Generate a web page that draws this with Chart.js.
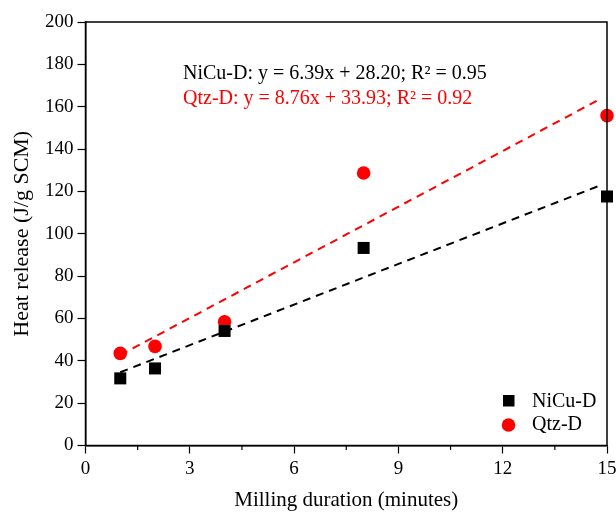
<!DOCTYPE html>
<html>
<head>
<meta charset="utf-8">
<script src="https://cdn.jsdelivr.net/npm/chart.js@4/dist/chart.umd.min.js"></script>
<style>
  html, body { margin: 0; padding: 0; background: #fff; overflow: hidden; }
  #wrap { width: 630px; height: 513px; }
</style>
</head>
<body>
<div id="wrap"><canvas id="chart" width="630" height="513"></canvas></div>
<script>
// milling duration (minutes)
const minutes = [1, 2, 4, 8, 15];
// heat release (J/g SCM)
const nicuValues = [31.7, 36.4, 54.1, 93.3, 117.6];
const qtzValues = [43.5, 46.8, 58.4, 128.7, 155.8];
// linear fit end points
const fitX = [1, 14.8];
const nicuFit = [34.6, 122.8];
const qtzFit = [42.7, 163.6];
const xTicks = [0, 3, 6, 9, 12, 15];
const xMinorTicks = [1.5, 4.5, 7.5, 10.5, 13.5];

const FONT = "'Liberation Serif', 'Times New Roman', serif";

const pts = (xs, ys) => xs.map((x, i) => ({ x: x, y: ys[i] }));

// frame, minor ticks, equation labels and legend
const extras = {
  id: 'extras',
  afterDraw(chart) {
    const { ctx, chartArea: a, scales } = chart;
    ctx.save();
    ctx.strokeStyle = '#000';
    ctx.lineWidth = 1.5;
    ctx.strokeRect(a.left, a.top, a.right - a.left, a.bottom - a.top);

    ctx.lineWidth = 1.2;
    xMinorTicks.forEach(v => {
      const px = scales.x.getPixelForValue(v);
      ctx.beginPath();
      ctx.moveTo(px, a.bottom);
      ctx.lineTo(px, a.bottom + 4.5);
      ctx.stroke();
    });

    ctx.font = '20px ' + FONT;
    ctx.textBaseline = 'middle';
    ctx.textAlign = 'left';
    ctx.fillStyle = '#000';
    ctx.fillText('NiCu-D: y = 6.39x + 28.20; R² = 0.95', 183, 74);
    ctx.fillStyle = '#ff0000';
    ctx.fillText('Qtz-D: y = 8.76x + 33.93; R² = 0.92', 183, 99);

    // legend
    ctx.fillStyle = '#000';
    ctx.fillRect(503, 395, 11.5, 11.5);
    ctx.fillText('NiCu-D', 532, 402);
    ctx.fillStyle = '#ff0000';
    ctx.beginPath();
    ctx.arc(508.5, 425, 6.8, 0, Math.PI * 2);
    ctx.fill();
    ctx.fillStyle = '#000';
    ctx.fillText('Qtz-D', 532, 425);
    ctx.restore();
  }
};

const ctx = document.getElementById('chart').getContext('2d');
new Chart(ctx, {
  type: 'scatter',
  data: {
    datasets: [
      {
        label: 'NiCu-D fit',
        type: 'line',
        data: pts(fitX, nicuFit),
        borderColor: '#000',
        borderWidth: 2,
        borderDash: [8, 6],
        pointRadius: 0,
        fill: false
      },
      {
        label: 'Qtz-D fit',
        type: 'line',
        data: pts(fitX, qtzFit),
        borderColor: '#ff0000',
        borderWidth: 2,
        borderDash: [8, 6],
        pointRadius: 0,
        fill: false
      },
      {
        label: 'NiCu-D',
        data: pts(minutes, nicuValues),
        pointStyle: 'rect',
        pointRadius: 8.5,
        pointBackgroundColor: '#000',
        pointBorderWidth: 0
      },
      {
        label: 'Qtz-D',
        data: pts(minutes, qtzValues),
        pointStyle: 'circle',
        pointRadius: 6.8,
        pointBackgroundColor: '#ff0000',
        pointBorderWidth: 0
      }
    ]
  },
  options: {
    responsive: false,
    animation: false,
    clip: false,
    layout: { padding: { top: 22, right: 23, left: 0, bottom: 0 } },
    plugins: { legend: { display: false }, tooltip: { enabled: false } },
    scales: {
      x: {
        type: 'linear',
        min: 0,
        max: 15,
        afterBuildTicks: s => { s.ticks = xTicks.map(v => ({ value: v })); },
        afterFit: s => { s.height = 67.5; },
        grid: { drawOnChartArea: false, drawTicks: true, tickLength: 8, tickColor: '#000', tickWidth: 1.2 },
        border: { display: true, color: '#000', width: 1.5 },
        ticks: { color: '#000', font: { family: FONT, size: 19 }, padding: 4, maxRotation: 0 },
        title: { display: true, text: 'Milling duration (minutes)', color: '#000', font: { family: FONT, size: 21 }, padding: { top: 12, bottom: 0 } }
      },
      y: {
        min: 0,
        max: 200,
        afterFit: s => { s.width = 85.5; },
        grid: { drawOnChartArea: false, drawTicks: true, tickLength: 8, tickColor: '#000', tickWidth: 1.2 },
        border: { display: true, color: '#000', width: 1.5 },
        ticks: { stepSize: 20, color: '#000', font: { family: FONT, size: 19 }, padding: 4 },
        title: { display: true, text: 'Heat release (J/g SCM)', color: '#000', font: { family: FONT, size: 22 }, padding: { top: 9, bottom: 0 } }
      }
    }
  },
  plugins: [extras]
});
</script>
</body>
</html>
